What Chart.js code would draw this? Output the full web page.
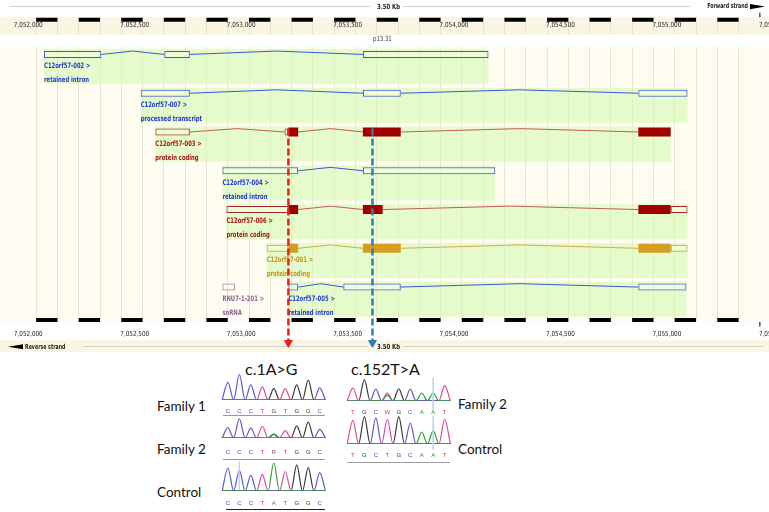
<!DOCTYPE html>
<html>
<head>
<meta charset="utf-8">
<script src="https://cdn.jsdelivr.net/npm/chart.js@4.4.1/dist/chart.umd.min.js"></script>
<style>
  body { margin: 0; background: #fff; }
  #page { position: relative; width: 769px; height: 512px; overflow: hidden; font-family: Lato, "Open Sans", sans-serif; }
  .box { position: absolute; }
  .txt { position: absolute; color: #111; white-space: nowrap; line-height: 1; }
  .uline { position: absolute; height: 0; }
</style>
</head>
<body>
<div id="page">
  <div class="box" style="left:0;top:0;width:769px;height:358px"><canvas id="browser"></canvas></div>

  <div class="txt" style="left:245px;top:361px;font-size:16px">c.1A&gt;G</div>
  <div class="txt" style="left:351px;top:361px;font-size:16px">c.152T&gt;A</div>
  <div class="txt" style="left:157px;top:400px;font-size:13.5px">Family 1</div>
  <div class="txt" style="left:157px;top:443px;font-size:13.5px">Family 2</div>
  <div class="txt" style="left:157px;top:486px;font-size:13.5px">Control</div>
  <div class="txt" style="left:458px;top:398px;font-size:13.5px">Family 2</div>
  <div class="txt" style="left:458px;top:443px;font-size:13.5px">Control</div>

  <div class="box" style="left:221px;top:374px;width:105px;height:41px"><canvas id="leftFam1"></canvas></div>
  <div class="box" style="left:221px;top:418px;width:105px;height:40px"><canvas id="leftFam2"></canvas></div>
  <div class="box" style="left:221px;top:461px;width:105px;height:47px"><canvas id="leftCtrl"></canvas></div>
  <div class="box" style="left:346px;top:378px;width:105px;height:38px"><canvas id="rightFam2"></canvas></div>
  <div class="box" style="left:346px;top:416px;width:105px;height:43px"><canvas id="rightCtrl"></canvas></div>

  <div class="uline" style="left:223px;top:415px;width:102px;border-top:1.5px solid #9a9a9a"></div>
  <div class="uline" style="left:223px;top:459px;width:102px;border-top:1.5px solid #9a9a9a"></div>
  <div class="uline" style="left:226px;top:509px;width:99px;border-top:1.5px solid #222"></div>
  <div class="uline" style="left:347px;top:462px;width:103px;border-top:1.5px solid #9a9a9a"></div>
</div>

<script>
// ---------- genome browser (positions in bp, chr12) ----------
const tickValues = [7052000, 7052500, 7053000, 7053500, 7054000, 7054500, 7055000, 7055500];
const tickLabels = ['7,052,000', '7,052,500', '7,053,000', '7,053,500', '7,054,000', '7,054,500', '7,055,000', '7,055,500'];
// starts of the black 100 bp ruler blocks
const rulerBlocks = [7052100, 7052300, 7052500, 7052700, 7052900, 7053100, 7053300, 7053500, 7053700,
                     7053900, 7054100, 7054300, 7054500, 7054700, 7054900, 7055100, 7055300];

const txNames = ['C12orf57-002', 'C12orf57-007', 'C12orf57-003', 'C12orf57-004',
                 'C12orf57-006', 'C12orf57-001', 'RNU7-1-201', 'C12orf57-005'];
const txTypes = ['retained intron', 'processed transcript', 'protein coding', 'retained intron',
                 'protein coding', 'protein coding', 'snRNA', 'retained intron'];
const txSource = ['havana', 'havana', 'ensembl', 'havana', 'ensembl', 'merged', 'ncrna', 'havana'];
const txRows = [0, 1, 2, 3, 4, 5, 6, 6];
// non-coding / UTR exon blocks
const txBlocks = [
  [[7052137, 7052406], [7052702, 7052822], [7053635, 7054225]],
  [[7052591, 7052822], [7053635, 7053813], [7054929, 7055160]],
  [[7052660, 7052822], [7053267, 7053285]],
  [[7052975, 7053331], [7053635, 7054257]],
  [[7052994, 7053285], [7055081, 7055160]],
  [[7053183, 7053285], [7055081, 7055160]],
  [[7052975, 7053035]],
  [[7053285, 7053331], [7053543, 7053813], [7054929, 7055155]]
];
// coding exon blocks
const txCoding = [
  [],
  [],
  [[7053285, 7053331], [7053635, 7053813], [7054929, 7055081]],
  [],
  [[7053285, 7053331], [7053635, 7053728], [7054929, 7055081]],
  [[7053285, 7053331], [7053635, 7053813], [7054929, 7055081]],
  [],
  []
];
const variantPos = [7053285, 7053680];

// ---------- chromatograms: peak heights per base, channel order A, C, G, T ----------
const leftFam1Bases = ['C', 'C', 'C', 'T', 'G', 'T', 'G', 'G', 'C'];
const leftFam1Peaks = [
  [0, 0, 0, 0, 0, 0, 0, 0, 0],
  [69, 100, 59, 0, 0, 0, 0, 0, 47],
  [0, 0, 0, 0, 44, 0, 59, 78, 0],
  [0, 0, 0, 51, 0, 44, 0, 0, 0]
];
const leftFam2Bases = ['C', 'C', 'C', 'T', 'R', 'T', 'G', 'G', 'C'];
const leftFam2Peaks = [
  [0, 0, 0, 0, 18, 0, 0, 0, 0],
  [53, 98, 50, 0, 0, 0, 0, 0, 44],
  [0, 0, 0, 0, 20, 0, 62, 81, 0],
  [0, 0, 0, 60, 0, 38, 0, 0, 0]
];
const leftCtrlBases = ['C', 'C', 'C', 'T', 'A', 'T', 'G', 'G', 'C'];
const leftCtrlPeaks = [
  [0, 0, 0, 0, 96, 0, 0, 0, 0],
  [78, 70, 53, 0, 0, 0, 0, 0, 62],
  [0, 0, 0, 0, 0, 0, 89, 79, 0],
  [0, 0, 0, 56, 0, 66, 0, 0, 0]
];
const rightFam2Bases = ['T', 'G', 'C', 'W', 'G', 'C', 'A', 'A', 'T'];
const rightFam2Peaks = [
  [0, 0, 0, 25, 0, 0, 35, 35, 0],
  [0, 0, 52, 0, 0, 52, 0, 0, 0],
  [0, 95, 0, 0, 54, 0, 0, 0, 0],
  [57, 0, 0, 34, 0, 0, 0, 0, 68]
];
const rightCtrlBases = ['T', 'G', 'C', 'T', 'G', 'C', 'A', 'A', 'T'];
const rightCtrlPeaks = [
  [0, 0, 0, 0, 0, 0, 43, 48, 0],
  [0, 0, 95, 0, 0, 76, 0, 0, 0],
  [0, 100, 0, 0, 100, 0, 0, 0, 0],
  [86, 0, 0, 90, 0, 0, 0, 0, 90]
];

// ---------- styles ----------
const palette = {
  havana:  { stroke: '#3f56da', fill: '#3f56da', text: '#2238cc', intron: '#3f56da' },
  ensembl: { stroke: '#a52a2a', fill: '#a00000', text: '#a31515', intron: '#c45c5c' },
  merged:  { stroke: '#cf9a22', fill: '#d49e22', text: '#c8921c', intron: '#d8aa40' },
  ncrna:   { stroke: '#a07aa0', fill: '#a07aa0', text: '#8f628f', intron: '#a07aa0' }
};
const variantColors = ['#e8201c', '#2f7db5'];
const SMALL = '"Liberation Sans Narrow", "Arial Narrow", "DejaVu Sans Condensed", sans-serif';

const X_MIN = 7051956, X_MAX = 7055517;
const Y_MIN = -1.2625, Y_MAX = 7.6875;     // rows, 40 px each
const HAT = 0.0875;                         // intron connector rise
const GREEN_SHIFT = 0.3125;
const RULER_TOP = -0.895, RULER_BOTTOM = 6.8475;
const VAR_TOP = 1.9125, VAR_BOTTOM = 7.4375;

function allBlocks(i) {
  return txBlocks[i].concat(txCoding[i]).sort((a, b) => a[0] - b[0]);
}

function intronPoints(i) {
  const blocks = allBlocks(i);
  const pts = [];
  for (let k = 1; k < blocks.length; k++) {
    const a = blocks[k - 1][1], b = blocks[k][0];
    if (b <= a) continue;
    pts.push({ x: a, y: txRows[i] }, { x: (a + b) / 2, y: txRows[i] - HAT }, { x: b, y: txRows[i] }, { x: b, y: null });
  }
  return pts;
}

const greenData = [];
const ncData = [];
const cdsData = [];
txNames.forEach((n, i) => {
  const blocks = allBlocks(i);
  if (txSource[i] !== 'ncrna') {
    greenData.push({ x: [blocks[0][0], Math.max(...blocks.map(b => b[1]))], y: txRows[i] + GREEN_SHIFT, t: i });
  }
  txBlocks[i].forEach(b => ncData.push({ x: b, y: txRows[i], t: i }));
  txCoding[i].forEach(b => cdsData.push({ x: b, y: txRows[i], t: i }));
});
const rulerData = [];
rulerBlocks.forEach(s => {
  rulerData.push({ x: [s, s + 100], y: RULER_TOP });
  rulerData.push({ x: [s, s + 100], y: RULER_BOTTOM });
});

const colorOf = (key) => (ctx) => ctx.raw && ctx.raw.t !== undefined ? palette[txSource[ctx.raw.t]][key] : '#000';

const datasets = [
  { type: 'bar', label: 'green', indexAxis: 'y', grouped: false, order: 10, data: greenData,
    barThickness: 35, backgroundColor: 'rgba(214,250,180,0.62)', borderWidth: 0, inflateAmount: 0 },
  { type: 'bar', label: 'exons', indexAxis: 'y', grouped: false, order: 6, data: ncData,
    barThickness: 7, backgroundColor: 'rgba(255,255,240,0.35)', borderColor: colorOf('stroke'),
    borderWidth: 1, borderSkipped: false, inflateAmount: 0 },
  { type: 'bar', label: 'coding', indexAxis: 'y', grouped: false, order: 5, data: cdsData,
    barThickness: 9, backgroundColor: colorOf('fill'), borderWidth: 0, inflateAmount: 0 },
  { type: 'bar', label: 'ruler', indexAxis: 'y', grouped: false, order: 4, data: rulerData,
    barThickness: 4, backgroundColor: '#000', borderWidth: 0, inflateAmount: 0 }
];
txNames.forEach((n, i) => {
  const pts = intronPoints(i);
  if (!pts.length) return;
  datasets.push({ type: 'line', label: 'intron', order: 8, data: pts, borderColor: palette[txSource[i]].intron,
    borderWidth: 1, pointRadius: 0, tension: 0, spanGaps: false });
});
variantPos.forEach((p, i) => {
  datasets.push({ type: 'line', label: 'variant', order: 0,
    data: [{ x: p, y: VAR_TOP }, { x: p, y: VAR_BOTTOM }],
    borderColor: variantColors[i], borderWidth: 2.5, borderDash: [7, 3],
    pointRadius: ctx => ctx.dataIndex === 1 ? 4.5 : 0, pointStyle: 'triangle', pointRotation: 180,
    pointBackgroundColor: variantColors[i], pointBorderColor: variantColors[i], pointBorderWidth: 1 });
});

function squeeze(ctx, str, x, y, sx) {
  ctx.save();
  ctx.translate(x, y);
  ctx.scale(sx, 1);
  ctx.fillText(str, 0, 0);
  ctx.restore();
}

const browserDecor = {
  id: 'browserDecor',
  beforeDraw(chart) {
    const { ctx, width, height } = chart;
    ctx.save();
    ctx.fillStyle = '#ffffff';
    ctx.fillRect(0, 0, width, height);
    ctx.fillStyle = '#fbf6e4';
    ctx.fillRect(0, 16.7, width, 18.3);
    ctx.fillStyle = '#fffcf1';
    ctx.fillRect(0, 47, width, 275);
    ctx.restore();
  },
  beforeDatasetsDraw(chart) {
    const { ctx, width, height } = chart;
    ctx.save();
    ctx.fillStyle = '#ffffff';
    ctx.fillRect(0, 0, width, 16.7);
    ctx.fillRect(0, 35, width, 12);
    ctx.fillRect(0, 322, width, 18);
    ctx.fillRect(0, 352, width, height - 352);
    ctx.fillStyle = '#fbf6e4';
    ctx.fillRect(0, 340, width, 12);
    ctx.restore();
  },
  afterDatasetDraw(chart, args) {
    if (chart.data.datasets[args.index].label !== 'coding') return;
    const { ctx } = chart;
    const xs = chart.scales.x, ys = chart.scales.y;
    ctx.save();
    ctx.textBaseline = 'middle';
    // transcript labels
    ctx.font = 'bold 7.5px ' + SMALL;
    txNames.forEach((n, i) => {
      const x = xs.getPixelForValue(allBlocks(i)[0][0]);
      const y = ys.getPixelForValue(txRows[i]);
      ctx.fillStyle = palette[txSource[i]].text;
      squeeze(ctx, n + ' >', x, y + 12, 0.78);
      squeeze(ctx, txTypes[i], x, y + 26, 0.78);
    });
    // ruler labels
    ctx.fillStyle = '#222';
    ctx.font = '7px ' + SMALL;
    tickValues.forEach((v, i) => {
      const x = xs.getPixelForValue(v) - 1;
      squeeze(ctx, tickLabels[i], x, 25, 0.9);
      squeeze(ctx, tickLabels[i], x, 334, 0.9);
    });
    const xe = xs.getPixelForValue(tickValues[tickValues.length - 1]);
    ctx.fillStyle = '#000';
    ctx.fillRect(xe - 0.5, 12.7, 1, 4.6);
    ctx.fillRect(xe - 0.5, 322, 1, 4.6);
    ctx.fillStyle = '#333';
    squeeze(ctx, 'p13.31', 373, 39.5, 0.85);
    // scale bars
    ctx.strokeStyle = '#d2d2d2';
    ctx.lineWidth = 1;
    ctx.beginPath();
    ctx.moveTo(10, 6.5); ctx.lineTo(370, 6.5);
    ctx.moveTo(403, 6.5); ctx.lineTo(690, 6.5);
    ctx.moveTo(83, 346.5); ctx.lineTo(368, 346.5);
    ctx.moveTo(403, 346.5); ctx.lineTo(763, 346.5);
    ctx.stroke();
    ctx.fillStyle = '#222';
    ctx.font = 'bold 7px ' + SMALL;
    squeeze(ctx, '3.50 Kb', 377, 6.7, 0.85);
    squeeze(ctx, '3.50 Kb', 377, 346.7, 0.85);
    ctx.textAlign = 'right';
    squeeze(ctx, 'Forward strand', 748, 6.5, 0.75);
    ctx.textAlign = 'left';
    squeeze(ctx, 'Reverse strand', 25, 346.7, 0.75);
    ctx.fillStyle = '#000';
    ctx.beginPath();
    ctx.moveTo(750, 4); ctx.lineTo(765, 6.6); ctx.lineTo(750, 9.3); ctx.closePath();
    ctx.moveTo(23, 344.2); ctx.lineTo(8, 346.7); ctx.lineTo(23, 349.2); ctx.closePath();
    ctx.fill();
    ctx.restore();
  }
};

new Chart(document.getElementById('browser'), {
  type: 'bar',
  data: { datasets: datasets },
  plugins: [browserDecor],
  options: {
    responsive: true,
    maintainAspectRatio: false,
    animation: false,
    events: [],
    layout: { padding: 0 },
    plugins: { legend: { display: false }, tooltip: { enabled: false } },
    scales: {
      x: {
        type: 'linear', position: 'top', min: X_MIN, max: X_MAX, offset: false,
        ticks: { display: false, stepSize: 100, maxTicksLimit: 200 },
        afterBuildTicks: s => { s.ticks = s.ticks.filter(t => t.value % 100 === 0); },
        grid: { color: '#ebe4cf', lineWidth: 1, drawTicks: false, offset: false },
        border: { display: false }
      },
      y: { type: 'linear', display: false, reverse: true, min: Y_MIN, max: Y_MAX, offset: false,
           grid: { offset: false }, beginAtZero: false }
    }
  }
});

// ---------- chromatogram traces ----------
const traceColors = { A: '#34a034', C: '#5a5ad2', G: '#3a3a3a', T: '#e0489a' };
const letterColors = { A: '#2a9a2a', C: '#4444c8', G: '#333333', T: '#d83a3a', R: '#a05070', W: '#a05070' };
const channels = ['A', 'C', 'G', 'T'];

function traceChart(id, bases, peaks, cursor, pad) {
  const ds = channels.map((ch, k) => {
    const pts = [];
    peaks[k].forEach((h, i) => {
      pts.push({ x: i - 0.5, y: 0 });
      pts.push({ x: i, y: h });
    });
    pts.push({ x: peaks[k].length - 0.5, y: 0 });
    return { data: pts, borderColor: traceColors[ch], borderWidth: 1.2, pointRadius: 0,
             cubicInterpolationMode: 'monotone', fill: false };
  });
  if (cursor) {
    ds.unshift({ data: [{ x: cursor[0], y: cursor[1] }, { x: cursor[0], y: cursor[2] }],
                 borderColor: '#b2daee', borderWidth: 1, pointRadius: 0, clip: false });
  }
  new Chart(document.getElementById(id), {
    type: 'line',
    data: { datasets: ds },
    options: {
      responsive: true,
      maintainAspectRatio: false,
      animation: false,
      events: [],
      layout: { padding: 0 },
      plugins: { legend: { display: false }, tooltip: { enabled: false } },
      scales: {
        x: {
          type: 'linear', min: -0.6, max: 8.55,
          grid: { display: false }, border: { display: false },
          afterBuildTicks: s => { s.ticks = bases.map((b, i) => ({ value: i })); },
          ticks: {
            autoSkip: false, maxRotation: 0, padding: pad,
            callback: (v, i) => bases[i],
            color: ctx => letterColors[bases[ctx.index]] || '#333',
            font: { size: 6, family: '"Liberation Sans", Arial, sans-serif' }
          }
        },
        y: { display: false, min: 0, max: 102 }
      }
    }
  });
}

traceChart('leftFam1', leftFam1Bases, leftFam1Peaks, null, 0);
traceChart('leftFam2', leftFam2Bases, leftFam2Peaks, null, 3);
traceChart('leftCtrl', leftCtrlBases, leftCtrlPeaks, [1, 100, 5], 1);
traceChart('rightFam2', rightFam2Bases, rightFam2Peaks, [7, 102, -40], 0);
traceChart('rightCtrl', rightCtrlBases, rightCtrlPeaks, [7, 102, -20], 0);
</script>
</body>
</html>
